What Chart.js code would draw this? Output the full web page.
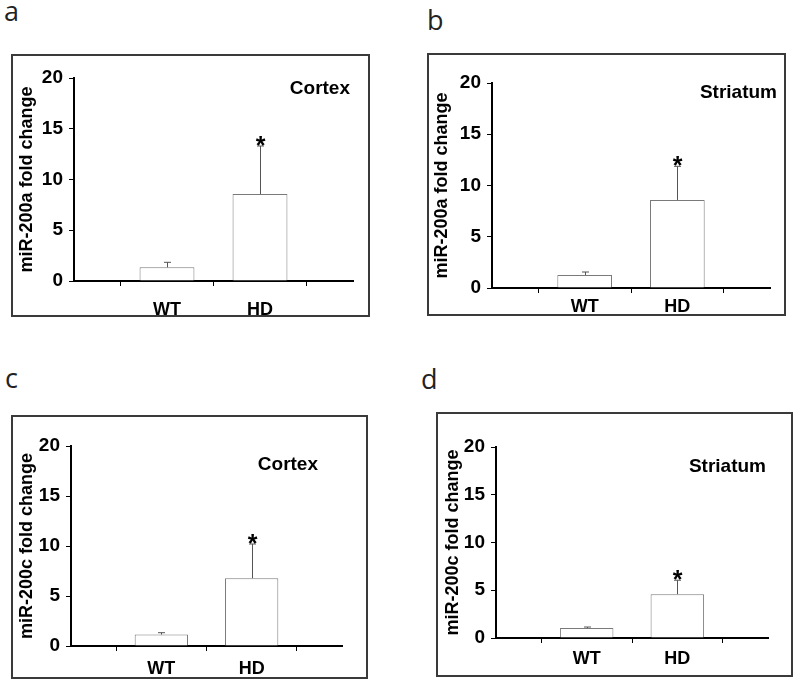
<!DOCTYPE html>
<html>
<head>
<meta charset="utf-8">
<script src="https://cdn.jsdelivr.net/npm/chart.js@4/dist/chart.umd.min.js"></script>
<style>
  body { margin: 0; width: 800px; height: 686px; background: #fff; position: relative; overflow: hidden; }
  .panel { position: absolute; outline: 2px solid #3a3a3a; outline-offset: -2px; }
  .panel canvas { position: absolute; left: 0; top: 0; }
  .letter { position: absolute; font-family: "Open Sans", sans-serif; font-size: 27px; line-height: 27px; color: #222; }
</style>
</head>
<body>
<div class="letter" style="left:4px;top:-3px">a</div>
<div class="letter" style="left:427px;top:6px">b</div>
<div class="letter" style="left:5px;top:364px">c</div>
<div class="letter" style="left:421px;top:365px">d</div>

<div class="panel" id="pa"><canvas id="ca"></canvas></div>
<div class="panel" id="pb"><canvas id="cb"></canvas></div>
<div class="panel" id="pc"><canvas id="cc"></canvas></div>
<div class="panel" id="pd"><canvas id="cd"></canvas></div>

<script>
// data
const groups = ['', 'WT', 'HD', ''];
const yTickValues = [0, 5, 10, 15, 20];
const significant = [false, false, true, false];

const cortex200a = [null, 1.35, 8.57, null];
const cortex200aErr = [null, 0.49, 4.73, null];
const striatum200a = [null, 1.27, 8.59, null];
const striatum200aErr = [null, 0.29, 3.28, null];
const cortex200c = [null, 1.14, 6.78, null];
const cortex200cErr = [null, 0.19, 3.42, null];
const striatum200c = [null, 1.04, 4.59, null];
const striatum200cErr = [null, 0.11, 1.46, null];

const FONT = '"Liberation Sans", Arial, sans-serif';
Chart.defaults.font.family = FONT;
Chart.defaults.color = '#000';

// error bars, stars and the region note
const extras = {
  id: 'extras',
  afterDatasetsDraw(chart, args, opts) {
    const ctx = chart.ctx;
    const y = chart.scales.y;
    const vals = chart.data.datasets[0].data;
    const meta = chart.getDatasetMeta(0);
    ctx.save();
    ctx.strokeStyle = '#555';
    ctx.lineWidth = 1;
    meta.data.forEach((bar, i) => {
      if (vals[i] == null) return;
      const x = Math.round(bar.x) + 0.5;
      const top = y.getPixelForValue(vals[i] + opts.errors[i]);
      ctx.beginPath();
      ctx.moveTo(x, bar.y);
      ctx.lineTo(x, top);
      ctx.moveTo(x - 3.5, top);
      ctx.lineTo(x + 3.5, top);
      ctx.stroke();
      if (opts.stars[i]) {
        ctx.fillStyle = '#000';
        ctx.font = 'bold 25px ' + FONT;
        ctx.textAlign = 'center';
        ctx.textBaseline = 'alphabetic';
        ctx.fillText('*', x, top + 8);
      }
    });
    const a = chart.chartArea;
    ctx.fillStyle = '#000';
    ctx.font = 'bold 19px ' + FONT;
    ctx.textAlign = 'right';
    ctx.textBaseline = 'middle';
    ctx.fillText(opts.note, a.right + opts.noteDx, a.top + opts.noteDy);
    ctx.restore();
  }
};

function makePanel(p) {
  const div = document.getElementById(p.div);
  div.style.left = p.box[0] + 'px';
  div.style.top = p.box[1] + 'px';
  div.style.width = p.box[2] + 'px';
  div.style.height = p.box[3] + 'px';
  const cv = document.getElementById(p.canvas);
  cv.width = p.box[2];
  cv.height = p.box[3];

  new Chart(cv, {
    type: 'bar',
    data: {
      labels: groups,
      datasets: [{
        data: p.values,
        backgroundColor: '#fff',
        borderColor: '#7a7a7a',
        borderWidth: 1,
        categoryPercentage: 1,
        barPercentage: 0.59
      }]
    },
    options: {
      responsive: false,
      animation: false,
      events: [],
      layout: { padding: { left: 0, top: p.area.top, right: p.area.right, bottom: 0 } },
      plugins: {
        legend: { display: false },
        tooltip: { enabled: false },
        extras: { errors: p.errors, stars: significant, note: p.note, noteDx: p.noteDx, noteDy: p.noteDy }
      },
      scales: {
        x: {
          type: 'category',
          offset: false,
          afterFit: s => { s.height = p.area.bottom; },
          grid: { display: true, drawOnChartArea: false, drawTicks: true, tickLength: 5, color: '#000' },
          border: { display: true, color: '#000', width: 2 },
          ticks: { autoSkip: false, maxRotation: 0, padding: p.labelPad, color: '#000',
                   font: { size: 18, weight: 'bold' } }
        },
        y: {
          min: yTickValues[0],
          max: yTickValues[yTickValues.length - 1],
          afterBuildTicks: s => { s.ticks = yTickValues.map(v => ({ value: v })); },
          afterFit: s => { s.width = p.area.left; },
          grid: { display: true, drawOnChartArea: false, drawTicks: true, tickLength: 5, color: '#000' },
          border: { display: true, color: '#000', width: 2 },
          ticks: { padding: 6, color: '#000', font: { size: 19, weight: 'bold' } },
          title: { display: true, text: p.title, color: '#000', padding: { top: p.titlePad, bottom: 0 },
                   font: { size: 18, weight: 'bold' } }
        }
      }
    },
    plugins: [extras]
  });
}

makePanel({ div: 'pa', canvas: 'ca', box: [11, 54, 359, 263],
  area: { left: 63, top: 24, right: 17, bottom: 36 }, labelPad: 13, titlePad: 5,
  values: cortex200a, errors: cortex200aErr, title: 'miR-200a fold change',
  note: 'Cortex', noteDx: -3, noteDy: 11 });

makePanel({ div: 'pb', canvas: 'cb', box: [427, 53, 359, 263],
  area: { left: 65, top: 30, right: 16, bottom: 28 }, labelPad: 3, titlePad: 4,
  values: striatum200a, errors: striatum200aErr, title: 'miR-200a fold change',
  note: 'Striatum', noteDx: 7, noteDy: 10 });

makePanel({ div: 'pc', canvas: 'cc', box: [11, 415, 357, 264],
  area: { left: 60, top: 31, right: 26, bottom: 33 }, labelPad: 7.5, titlePad: 5,
  values: cortex200c, errors: cortex200cErr, title: 'miR-200c fold change',
  note: 'Cortex', noteDx: -24, noteDy: 19 });

makePanel({ div: 'pd', canvas: 'cd', box: [436, 412, 357, 265],
  area: { left: 60, top: 35, right: 25, bottom: 39 }, labelPad: 5, titlePad: 6,
  values: striatum200c, errors: striatum200cErr, title: 'miR-200c fold change',
  note: 'Striatum', noteDx: -2, noteDy: 20 });
</script>
</body>
</html>
